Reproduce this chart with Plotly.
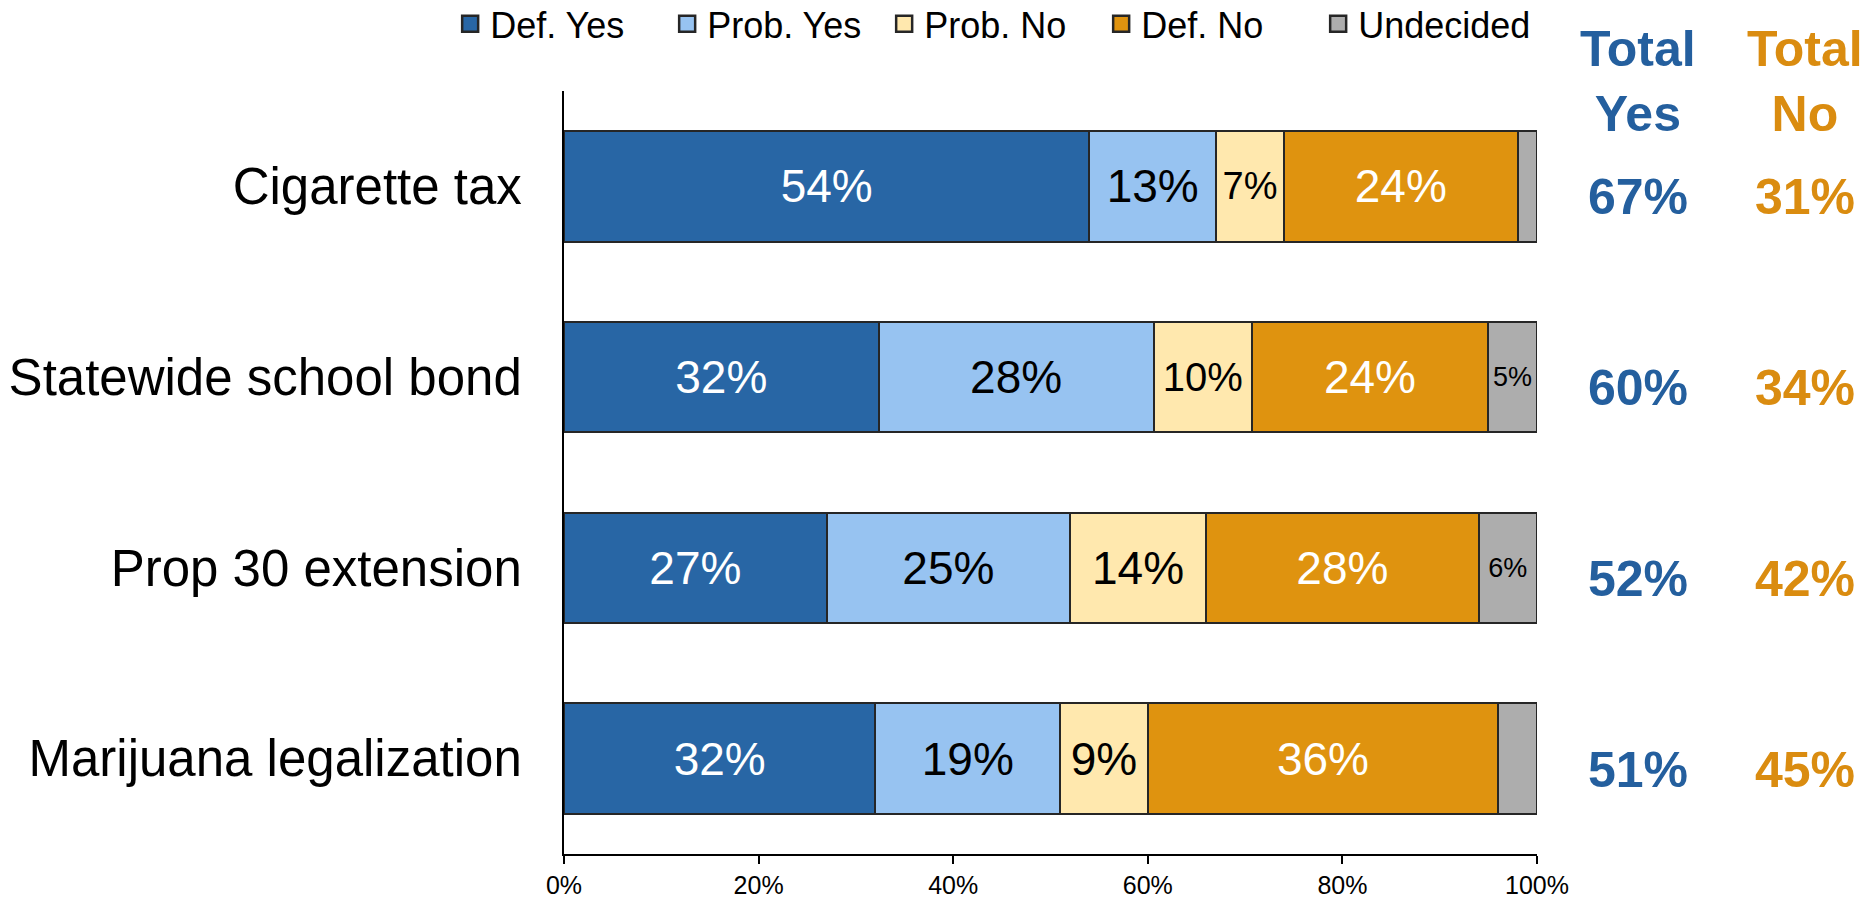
import plotly.graph_objects as go

categories = ["Cigarette tax", "Statewide school bond", "Prop 30 extension", "Marijuana legalization"]
series_names = ["Def. Yes", "Prob. Yes", "Prob. No", "Def. No", "Undecided"]
def_yes = [54, 32, 27, 32]
prob_yes = [13, 28, 25, 19]
prob_no = [7, 10, 14, 9]
def_no = [24, 24, 28, 36]
undecided = [2, 5, 6, 4]
total_yes = [67, 60, 52, 51]
total_no = [31, 34, 42, 45]
x_ticks = [0, 20, 40, 60, 80, 100]

# styles
FONT = "Liberation Sans, Arial, sans-serif"
colors = ["#2866A5", "#97C3F1", "#FFE8AE", "#DF930F", "#ADADAD"]
text_colors = ["white", "black", "black", "white", "black"]
big = 46
sizes = [
    [big] * 4,
    [big] * 4,
    [38, 40, big, big],
    [big] * 4,
    [27, 27, 27, 27],
]
show_min = [0, 0, 0, 0, 5]  # undecided labels shown only for larger segments
yes_color = "#245F9E"
no_color = "#DA8C10"

values = [def_yes, prob_yes, prob_no, def_no, undecided]

fig = go.Figure()
for i, (name, vals) in enumerate(zip(series_names, values)):
    texts = [f"{v}%" if v >= show_min[i] else "" for v in vals]
    fig.add_trace(go.Bar(
        name=name, y=categories, x=vals, orientation="h",
        marker=dict(color=colors[i], line=dict(color="#262626", width=2)),
        text=texts, textposition="inside", insidetextanchor="middle",
        textangle=0, constraintext="none",
        textfont=dict(color=text_colors[i], size=sizes[i], family=FONT),
        hoverinfo="skip", showlegend=False,
    ))

# legend entries (square swatches)
for i, name in enumerate(series_names):
    fig.add_trace(go.Scatter(
        name=name, x=[None], y=[None], mode="markers",
        marker=dict(symbol="square", size=16, color=colors[i],
                    line=dict(color="#262626", width=2.5)),
        showlegend=True, hoverinfo="skip",
    ))

ann = []
ann.append(dict(text="<b>Total<br>Yes</b>", x=1.104, y=1.012, xref="paper", yref="paper",
                showarrow=False, font=dict(size=50, color=yes_color, family=FONT),
                xanchor="center", yanchor="middle"))
ann.append(dict(text="<b>Total<br>No</b>", x=1.2755, y=1.012, xref="paper", yref="paper",
                showarrow=False, font=dict(size=50, color=no_color, family=FONT),
                xanchor="center", yanchor="middle"))
for cat, ty, tn in zip(categories, total_yes, total_no):
    ann.append(dict(text=f"<b>{ty}%</b>", x=1.104, y=cat, xref="paper", yref="y",
                    showarrow=False, yshift=-11,
                    font=dict(size=50, color=yes_color, family=FONT),
                    xanchor="center", yanchor="middle"))
    ann.append(dict(text=f"<b>{tn}%</b>", x=1.2755, y=cat, xref="paper", yref="y",
                    showarrow=False, yshift=-11,
                    font=dict(size=50, color=no_color, family=FONT),
                    xanchor="center", yanchor="middle"))

fig.update_layout(
    width=1872, height=898,
    barmode="stack", barnorm="percent", bargap=0.42,
    paper_bgcolor="white", plot_bgcolor="white",
    margin=dict(l=564, r=335, t=91, b=44, autoexpand=False),
    font=dict(family=FONT, color="black"),
    showlegend=True,
    legend=dict(orientation="h", x=-0.117, y=1.088, xanchor="left", yanchor="middle",
                font=dict(size=36, family=FONT, color="black"),
                traceorder="normal", itemwidth=30, entrywidth=172, entrywidthmode="pixels",
                bgcolor="rgba(0,0,0,0)"),
    annotations=ann,
    xaxis=dict(range=[0, 100], tickvals=x_ticks, ticktext=[f"{t}%" for t in x_ticks],
               showgrid=False, zeroline=False, showline=True, linecolor="black", linewidth=2,
               ticks="outside", ticklen=8, tickwidth=2, tickcolor="black",
               tickfont=dict(size=25, family=FONT, color="black"), fixedrange=True),
    yaxis=dict(categoryorder="array", categoryarray=categories, autorange="reversed",
               showgrid=False, zeroline=False, showline=True, linecolor="black", linewidth=2,
               ticks="", ticklabelstandoff=30,
               tickfont=dict(size=51, family=FONT, color="black"), fixedrange=True),
)

fig.write_html(
    "out.html",
    config={"displayModeBar": False},
    post_script="document.body.style.margin='0';document.body.style.overflow='hidden';",
)
